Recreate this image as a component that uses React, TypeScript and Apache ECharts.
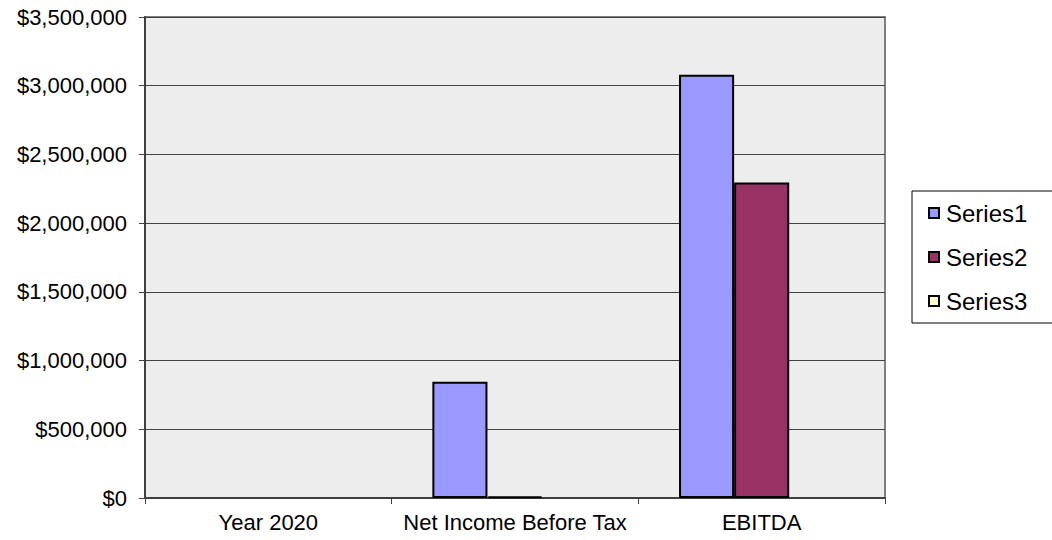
import React, { useEffect, useRef } from "react";
import * as echarts from "echarts";

const categories = ["Year 2020", "Net Income Before Tax", "EBITDA"];
const series1 = [0, 845000, 3080000];
const series2 = [0, 12000, 2295000];
const series3 = [0, 0, 0];
const seriesNames = ["Series1", "Series2", "Series3"];
const seriesColors = ["#9999FF", "#993366", "#FFFFCC"];

const fmt = (v: number) => "$" + v.toLocaleString("en-US");

export default function App() {
  const ref = useRef<HTMLDivElement>(null);
  useEffect(() => {
    if (!ref.current) return;
    const chart = echarts.init(ref.current, null, { renderer: "svg" });
    const data = [series1, series2, series3];
    chart.setOption({
      animation: false,
      textStyle: { fontFamily: "Liberation Sans, Arial, sans-serif" },
      grid: {
        left: 145,
        right: 167,
        top: 17,
        bottom: 42,
        show: true,
        backgroundColor: "#EDEDED",
        borderColor: "#808080",
        borderWidth: 2,
      },
      legend: {
        orient: "vertical",
        left: 912,
        top: 191,
        data: seriesNames,
        icon: "rect",
        itemWidth: 10,
        itemHeight: 10,
        itemGap: 20,
        padding: [10, 30, 10, 16],
        borderColor: "#000",
        borderWidth: 1,
        textStyle: { fontSize: 24, color: "#000", padding: [0, 0, 0, 2] },
      },
      xAxis: {
        type: "category",
        data: categories,
        axisLine: { lineStyle: { color: "#404040", width: 2 } },
        axisTick: { show: true, length: 6, lineStyle: { color: "#404040" } },
        axisLabel: { color: "#000", fontSize: 22, margin: 13, interval: 0 },
      },
      yAxis: {
        type: "value",
        min: 0,
        max: 3500000,
        interval: 500000,
        axisLine: { show: true, lineStyle: { color: "#404040", width: 2 } },
        axisTick: { show: true, length: 6, lineStyle: { color: "#404040" } },
        axisLabel: { color: "#000", fontSize: 22, margin: 18, formatter: fmt },
        splitLine: { lineStyle: { color: "#404040", width: 1 } },
      },
      series: seriesNames.map((name, i) => ({
        name,
        type: "bar",
        data: data[i].map((v) => (v === 0 ? "-" : v)),
        barGap: "0%",
        barCategoryGap: "33%",
        itemStyle: { color: seriesColors[i], borderColor: "#000", borderWidth: 2 },
      })),
    });
    return () => chart.dispose();
  }, []);
  return (
    <div
      ref={ref}
      style={{ position: "fixed", left: 0, top: 0, width: 1052, height: 540, background: "#fff" }}
    />
  );
}
